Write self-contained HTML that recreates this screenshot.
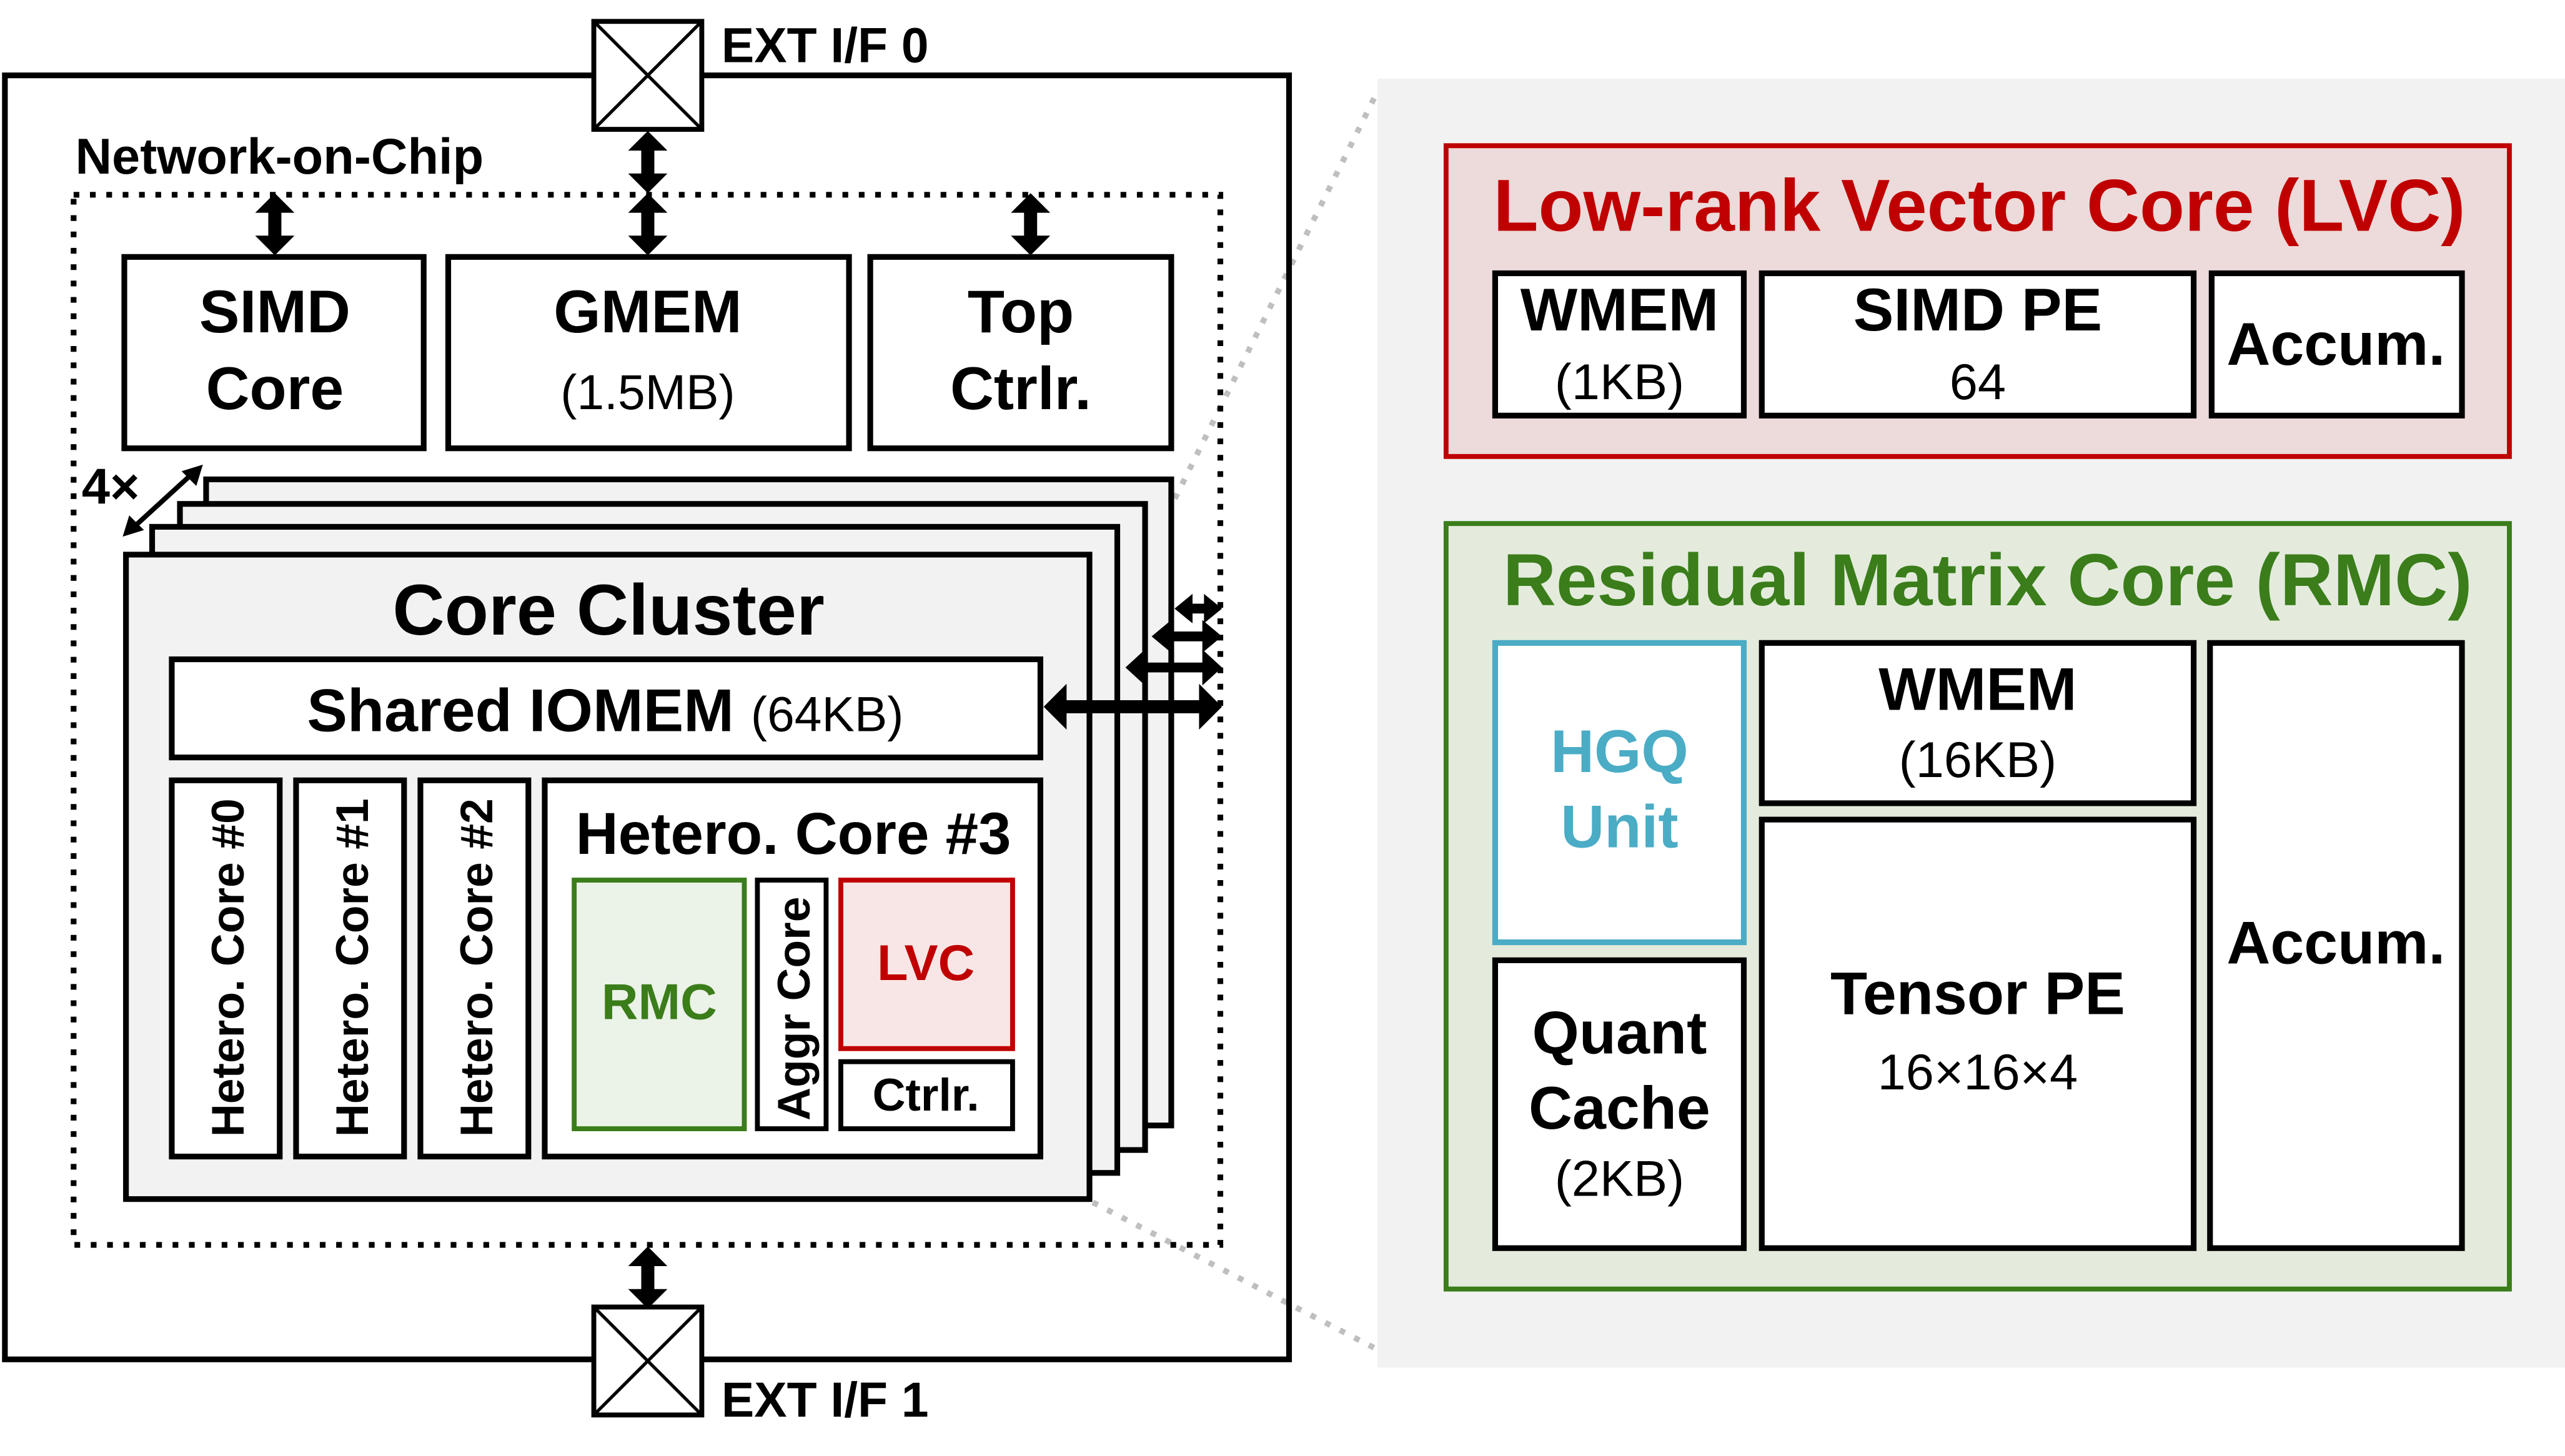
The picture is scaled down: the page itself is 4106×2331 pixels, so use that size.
<!DOCTYPE html>
<html><head><meta charset="utf-8"><style>html,body{margin:0;padding:0;background:#fff}svg{display:block}</style></head>
<body>
<svg xmlns="http://www.w3.org/2000/svg" width="4106" height="2331" viewBox="0 0 1568 890" font-family="Liberation Sans, Arial, sans-serif">
<defs>
<g id="va"><polygon points="0,-19 -12,-7 -4,-7 -4,7 -12,7 0,19 12,7 4,7 4,-7 12,-7"/></g>
</defs>
<rect x="0" y="0" width="1568" height="890" fill="#fff"/>
<rect x="842" y="48" width="726" height="788" fill="#f2f2f2"/>
<line x1="638" y1="466" x2="842" y2="56" stroke="#bfbfbf" stroke-width="3.5" stroke-dasharray="3.5 6.5"/>
<line x1="668" y1="735" x2="842" y2="825" stroke="#bfbfbf" stroke-width="3.5" stroke-dasharray="3.5 6.5"/>
<rect x="3" y="46" width="785" height="785" fill="none" stroke="#000" stroke-width="3.5"/>
<rect x="45" y="119" width="701" height="642" fill="none" stroke="#000" stroke-width="3.5" stroke-dasharray="3.5 6.5"/>
<text x="46" y="106" font-size="31" font-weight="bold">Network-on-Chip</text>
<g fill="#fff" stroke="#000" stroke-width="3">
<rect x="363" y="13" width="66" height="66"/>
<rect x="363" y="799" width="66" height="66"/>
</g>
<g stroke="#000" stroke-width="2">
<line x1="363" y1="13" x2="429" y2="79"/><line x1="429" y1="13" x2="363" y2="79"/>
<line x1="363" y1="799" x2="429" y2="865"/><line x1="429" y1="799" x2="363" y2="865"/>
</g>
<text x="441" y="38" font-size="30" font-weight="bold">EXT I/F 0</text>
<text x="441" y="866" font-size="30" font-weight="bold">EXT I/F 1</text>
<use href="#va" x="396" y="99"/>
<use href="#va" x="396" y="137"/>
<use href="#va" x="168" y="137"/>
<use href="#va" x="630" y="137"/>
<use href="#va" x="396" y="781"/>
<g fill="#fff" stroke="#000" stroke-width="3.5">
<rect x="76" y="157" width="183" height="117"/>
<rect x="274" y="157" width="245" height="117"/>
<rect x="532" y="157" width="184" height="117"/>
</g>
<g font-weight="bold" font-size="37" text-anchor="middle">
<text x="168" y="203">SIMD</text><text x="168" y="250">Core</text>
<text x="396" y="203">GMEM</text>
<text x="624" y="203">Top</text><text x="624" y="250">Ctrlr.</text>
</g>
<text x="396" y="250" font-size="30" text-anchor="middle">(1.5MB)</text>
<text x="50" y="308" font-size="31" font-weight="bold">4×</text>
<line x1="82" y1="322" x2="117" y2="290" stroke="#000" stroke-width="3"/>
<polygon points="75,328 79,315 88,324" fill="#000"/>
<polygon points="124,284 111,288 120,297" fill="#000"/>
<g fill="#f2f2f2" stroke="#000" stroke-width="3.5">
<rect x="126" y="293" width="590" height="395"/>
<rect x="110" y="308" width="590" height="395"/>
<rect x="93" y="322" width="590" height="395"/>
<rect x="77" y="339" width="589" height="394"/>
</g>
<g fill="#000">
<rect x="650" y="428" width="85" height="8"/>
<polygon points="638,432 652,418 652,446"/><polygon points="747,432 733,418 733,446"/>
<rect x="698" y="405" width="38" height="6"/>
<polygon points="688,408 700,397 700,419"/><polygon points="747,408 735,397 735,419"/>
<rect x="714" y="386" width="22" height="6"/>
<polygon points="704,389 716,379 716,399"/><polygon points="747,389 735,379 735,399"/>
<rect x="727" y="369" width="10" height="6"/>
<polygon points="718,372 729,363 729,381"/><polygon points="747,372 736,363 736,381"/>
</g>
<text x="372" y="388" font-size="44" font-weight="bold" text-anchor="middle">Core Cluster</text>
<rect x="105" y="403" width="531" height="60" fill="#fff" stroke="#000" stroke-width="3.5"/>
<text x="370" y="447" font-size="37" text-anchor="middle"><tspan font-weight="bold">Shared IOMEM</tspan> <tspan font-size="30">(64KB)</tspan></text>
<g fill="#fff" stroke="#000" stroke-width="3.5">
<rect x="105" y="477" width="66" height="230"/>
<rect x="181" y="477" width="66" height="230"/>
<rect x="257" y="477" width="66" height="230"/>
<rect x="333" y="477" width="303" height="230"/>
</g>
<g font-size="28" font-weight="bold">
<text transform="translate(149,695) rotate(-90)">Hetero. Core #0</text>
<text transform="translate(225,695) rotate(-90)">Hetero. Core #1</text>
<text transform="translate(301,695) rotate(-90)">Hetero. Core #2</text>
</g>
<text x="485" y="522" font-size="36" font-weight="bold" text-anchor="middle">Hetero. Core #3</text>
<rect x="351" y="538" width="104" height="152" fill="#ebf2e7" stroke="#3a7d1a" stroke-width="3"/>
<text x="403" y="623" font-size="31" font-weight="bold" fill="#3a7d1a" text-anchor="middle">RMC</text>
<rect x="463" y="538" width="42" height="152" fill="#fff" stroke="#000" stroke-width="3"/>
<text transform="translate(495,685) rotate(-90)" font-size="28" font-weight="bold">Aggr Core</text>
<rect x="514" y="538" width="105" height="103" fill="#f8e6e6" stroke="#c00000" stroke-width="3"/>
<text x="566" y="599" font-size="31" font-weight="bold" fill="#c00000" text-anchor="middle">LVC</text>
<rect x="514" y="649" width="105" height="41" fill="#fff" stroke="#000" stroke-width="3"/>
<text x="566" y="679" font-size="28" font-weight="bold" text-anchor="middle">Ctrlr.</text>
<rect x="884" y="89" width="650" height="190" fill="#eddada" stroke="#c00000" stroke-width="3"/>
<text x="1210" y="141" font-size="45" font-weight="bold" fill="#c00000" text-anchor="middle">Low-rank Vector Core (LVC)</text>
<g fill="#fff" stroke="#000" stroke-width="3.5">
<rect x="914" y="167" width="152" height="87"/>
<rect x="1077" y="167" width="264" height="87"/>
<rect x="1352" y="167" width="153" height="87"/>
</g>
<g font-size="37" text-anchor="middle">
<text x="990" y="202" font-weight="bold">WMEM</text>
<text x="990" y="244" font-size="31">(1KB)</text>
<text x="1209" y="202" font-weight="bold">SIMD PE</text>
<text x="1209" y="244" font-size="31">64</text>
<text x="1428" y="223" font-weight="bold">Accum.</text>
</g>
<rect x="884" y="320" width="650" height="468" fill="#e4ebdd" stroke="#3a7d1a" stroke-width="3"/>
<text x="1215" y="370" font-size="45" font-weight="bold" fill="#3a7d1a" text-anchor="middle">Residual Matrix Core (RMC)</text>
<rect x="914" y="393" width="152" height="183" fill="#fff" stroke="#4bacc6" stroke-width="3.5"/>
<g fill="#fff" stroke="#000" stroke-width="3.5">
<rect x="914" y="587" width="152" height="176"/>
<rect x="1077" y="393" width="264" height="98"/>
<rect x="1077" y="501" width="264" height="262"/>
<rect x="1351" y="393" width="154" height="370"/>
</g>
<g font-size="37" font-weight="bold" text-anchor="middle">
<text x="990" y="472" fill="#4bacc6">HGQ</text>
<text x="990" y="518" fill="#4bacc6">Unit</text>
<text x="990" y="644">Quant</text>
<text x="990" y="690">Cache</text>
<text x="1209" y="434">WMEM</text>
<text x="1209" y="620">Tensor PE</text>
<text x="1428" y="589">Accum.</text>
</g>
<g font-size="31" text-anchor="middle">
<text x="990" y="731">(2KB)</text>
<text x="1209" y="475">(16KB)</text>
<text x="1209" y="666">16×16×4</text>
</g>
</svg>
</body></html>
